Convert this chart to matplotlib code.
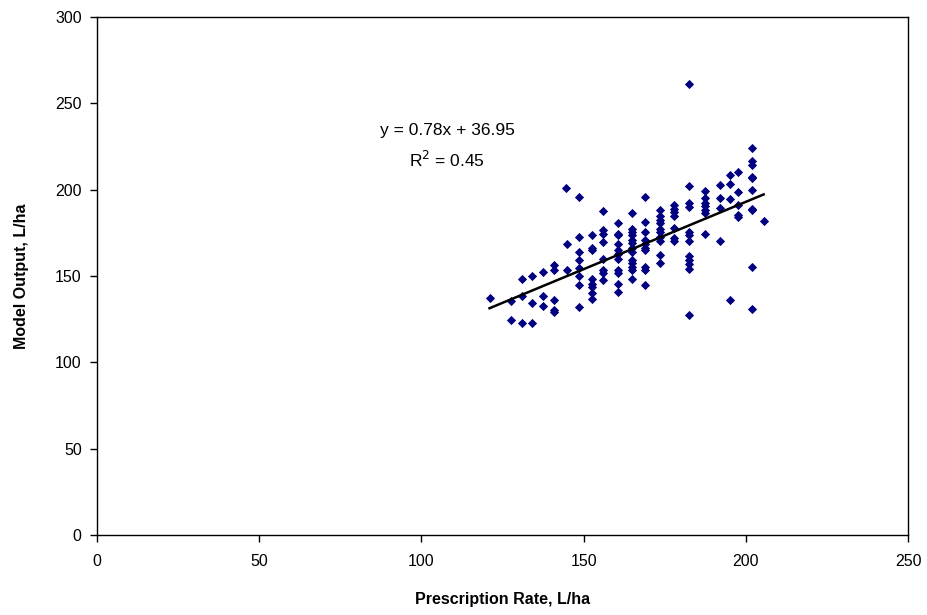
import matplotlib
matplotlib.use("Agg")
import matplotlib.pyplot as plt
import numpy as np

plt.rcParams['font.family'] = ['Liberation Sans', 'DejaVu Sans']

# Prescription rate (x) and model output (y)
x_vals = (
    [121] +
    [127.5] * 2 +
    [131] * 3 +
    [134] * 3 +
    [137.5] * 3 +
    [141] * 5 +
    [144.5] +
    [145] * 2 +
    [148.5] * 8 +
    [152.5] * 8 +
    [156] * 8 +
    [160.5] * 11 +
    [165] * 13 +
    [169] * 10 +
    [173.5] * 10 +
    [178] * 7 +
    [182.5] * 12 +
    [187.5] * 7 +
    [192] * 4 +
    [195] * 4 +
    [197.5] * 5 +
    [202] * 10 +
    [205.5]
)
y_vals = (
    [137.5] +
    [135.5, 124.5] +
    [148.5, 138.5, 122.5] +
    [150, 134.5, 122.5] +
    [152.5, 138.5, 132.5] +
    [156.5, 153.5, 136, 130.5, 129] +
    [201] +
    [168.5, 153.5] +
    [195.5, 172.5, 164, 159.5, 154.5, 150, 145, 132] +
    [173.5, 166.5, 165, 148, 145.5, 143.5, 140, 136.5] +
    [187.5, 176.5, 174.5, 169.5, 160, 153.5, 151.5, 147.5] +
    [180.5, 174.5, 173.5, 168.5, 165, 163, 160, 153.5, 151.5, 145.5, 140.5] +
    [186.5, 177.5, 175.5, 173.5, 171, 169, 166, 164, 159, 157.5, 155.5, 153.5, 148] +
    [195.5, 181, 175.5, 171, 168.5, 166.5, 165, 155.5, 153.5, 144.5] +
    [188.5, 184.5, 182.5, 180.5, 177.5, 175.5, 172.5, 170.5, 162, 157.5] +
    [191, 189, 187, 185, 178, 172, 170.5] +
    [261, 202, 192.5, 190, 175.5, 174, 170, 161.5, 159.5, 157, 154, 127.5] +
    [199.5, 195, 192.5, 190.5, 188, 186.5, 174.5] +
    [202.5, 195, 189.5, 170.5] +
    [208.5, 203.5, 194.5, 136] +
    [210, 198.5, 191, 185.5, 184] +
    [224, 216.5, 214.5, 207.5, 206.5, 200, 189, 188, 155, 131] +
    [182]
)

# Trendline coefficients shown on the chart
slope = 0.78
intercept = 36.95
r_squared = 0.45

x_ticks = [0, 50, 100, 150, 200, 250]
y_ticks = [0, 50, 100, 150, 200, 250, 300]

fig = plt.figure(figsize=(9.28, 6.15), dpi=100)
ax = fig.add_axes([97/928, 1 - 535/615, (908 - 97)/928, (535 - 17)/615])

ax.scatter(x_vals, y_vals, marker='D', s=22, color='#000080', linewidths=0, zorder=3)

xl = np.array([min(x_vals), max(x_vals)])
ax.plot(xl, slope * xl + intercept, color='black', linewidth=1.8, zorder=4)

ax.set_xlim(0, 250)
ax.set_ylim(0, 300)
ax.set_xticks(x_ticks)
ax.set_yticks(y_ticks)
ax.tick_params(direction='out', length=5, width=1, labelsize=11.5, pad=6)
ax.tick_params(axis='x', pad=9)
for s in ax.spines.values():
    s.set_linewidth(1)

ax.set_xlabel('Prescription Rate, L/ha', fontsize=11.5, fontweight='bold', labelpad=16)
ax.set_ylabel('Model Output, L/ha', fontsize=11.5, fontweight='bold', labelpad=19)

ax.text(108, 234, f'y = {slope:.2f}x + {intercept:.2f}', ha='center', va='center', fontsize=12.5)
ax.text(108, 217, f'R$^2$ = {r_squared:.2f}', ha='center', va='center', fontsize=12.5)

fig.savefig('out.png', dpi=100)
